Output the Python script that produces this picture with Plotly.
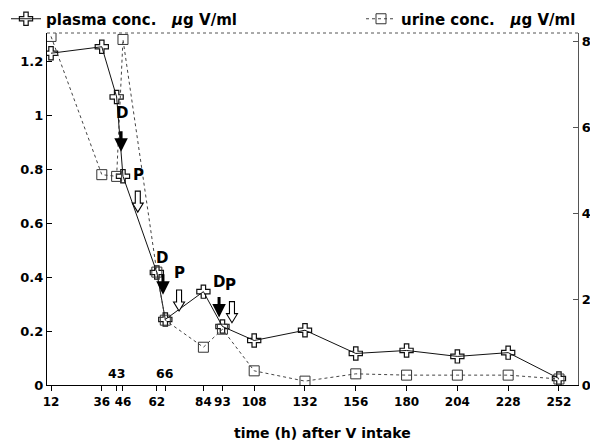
import plotly.graph_objects as go

# ---- data ----
hours = [12, 36, 43, 46, 62, 66, 84, 93, 108, 132, 156, 180, 204, 228, 252]
plasma = [1.23, 1.254, 1.068, 0.774, 0.417, 0.243, 0.346, 0.217, 0.165, 0.203,
          0.117, 0.128, 0.106, 0.120, 0.024]
urine = [8.12, 4.90, 4.86, 8.05, 2.63, 1.51, 0.88, 1.30, 0.33, 0.09,
         0.26, 0.23, 0.23, 0.23, 0.14]

tick_hours = [12, 36, 43, 46, 62, 66, 84, 93, 108, 132, 156, 180, 204, 228, 252]
tick_labels = ["12", "36", "", "46", "62", "", "84", "93", "108", "132",
               "156", "180", "204", "228", "252"]
inner_tick_hours = [43, 66]
inner_tick_labels = ["43", "66"]

# D (filled arrows) and P (hollow arrows) markers
d_arrow_hours = [45.1, 64.9, 91.4]
d_arrow_tip = [0.865, 0.335, 0.25]
d_label_hours = [45.5, 64.4, 91.4]
d_label_y = [1.007, 0.472, 0.383]
p_arrow_hours = [53.0, 72.5, 97.5]
p_arrow_mid = [0.68, 0.313, 0.27]
p_label_hours = [53.1, 72.5, 96.6]
p_label_y = [0.78, 0.417, 0.372]

FONT = "DejaVu Sans"

X_RANGE = [10.1, 261]
Y_RANGE = [0, 1.305]
Y2_RANGE = [0, 8.2]
# page has an 8px body margin: figure starts at (8, 8)
OFF = 8
W, H = 598 - OFF, 441 - OFF
ML, MR, MT, MB = 47 - OFF, 20, 33 - OFF, 56
PW, PH = W - ML - MR, H - MT - MB
px_x = (X_RANGE[1] - X_RANGE[0]) / PW   # hours per pixel
px_y = (Y_RANGE[1] - Y_RANGE[0]) / PH   # left units per pixel

fig = go.Figure()
fig.add_trace(go.Scatter(
    x=hours, y=plasma, mode="lines+markers",
    name="plasma conc.\u00a0\u00a0\u00a0<i>µ</i>g V/ml",
    line=dict(color="#111111", width=1),
    marker=dict(symbol="cross-open", size=11, color="#111111", line=dict(width=1.2)),
    legend="legend",
))
fig.add_trace(go.Scatter(
    x=hours, y=urine, mode="lines+markers",
    name="urine conc.\u00a0\u00a0\u00a0<i>µ</i>g V/ml",
    line=dict(color="#444444", width=1, dash="dot"),
    marker=dict(symbol="square-open", size=10, color="#333333", line=dict(width=1)),
    yaxis="y2", legend="legend2",
))

ann = []
for h, yv in zip(d_arrow_hours, d_arrow_tip):
    ann.append(dict(x=h, y=yv, xref="x", yref="y", text="", showarrow=True,
                    ax=0, ay=-22, arrowhead=2, arrowwidth=3, arrowsize=0.9,
                    arrowcolor="#000000"))
for h, yv in zip(d_label_hours, d_label_y):
    ann.append(dict(x=h, y=yv, xref="x", yref="y", text="D", showarrow=False,
                    yanchor="middle",
                    font=dict(family=FONT, size=15, color="#000", weight="bold")))
for h, yv in zip(p_label_hours, p_label_y):
    ann.append(dict(x=h, y=yv, xref="x", yref="y", text="P", showarrow=False,
                    yanchor="middle",
                    font=dict(family=FONT, size=15, color="#000", weight="bold")))
for h, t in zip(inner_tick_hours, inner_tick_labels):
    ann.append(dict(x=h, y=(385 - 373) / PH, xref="x", yref="paper", text=t,
                    showarrow=False, yanchor="middle",
                    font=dict(family=FONT, size=12.5, color="#000", weight="bold")))
ann.append(dict(x=(322 - 47) / PW, y=-(433 - 385) / PH, xref="paper", yref="paper",
                text="time (h) after V intake", showarrow=False, yanchor="middle",
                font=dict(family=FONT, size=14, color="#000", weight="bold")))

# hollow "P" arrows as outlined paths (sizes in pixels)
shapes = [dict(type="line", xref="paper", yref="paper", x0=0, x1=1, y0=1, y1=1,
               line=dict(color="#555", width=1, dash="dot"))]
total_h, head_h, shaft_w, head_w = 21, 9, 5, 11
for h, ym in zip(p_arrow_hours, p_arrow_mid):
    top = ym + total_h / 2 * px_y
    bot = ym - total_h / 2 * px_y
    neck = bot + head_h * px_y
    sx = shaft_w / 2 * px_x
    hx = head_w / 2 * px_x
    pts = [(h - sx, top), (h + sx, top), (h + sx, neck), (h + hx, neck),
           (h, bot), (h - hx, neck), (h - sx, neck)]
    path = "M " + " L ".join(f"{a:.4f},{b:.5f}" for a, b in pts) + " Z"
    shapes.append(dict(type="path", xref="x", yref="y", path=path,
                       line=dict(color="#000", width=1.1), fillcolor="white"))

leg_y = 1 + (33 - 19) / PH
fig.update_layout(
    width=W, height=H,
    margin=dict(l=ML, r=MR, t=MT, b=MB, autoexpand=False),
    paper_bgcolor="white", plot_bgcolor="white",
    font=dict(family=FONT, size=12.5, color="#000", weight="bold"),
    xaxis=dict(range=X_RANGE, tickvals=tick_hours, ticktext=tick_labels,
               tickangle=0,
               showgrid=False, zeroline=False, showline=True, linecolor="#000",
               linewidth=1.3, ticks="outside", ticklen=5, tickcolor="#000",
               tickfont=dict(size=12)),
    yaxis=dict(range=Y_RANGE, tickvals=[0, 0.2, 0.4, 0.6, 0.8, 1, 1.2],
               ticktext=["0", "0.2", "0.4", "0.6", "0.8", "1", "1.2"],
               showgrid=False, zeroline=False, showline=True, linecolor="#000",
               linewidth=1.3, ticks="inside", ticklen=5, tickcolor="#000",
               tickfont=dict(size=13)),
    yaxis2=dict(range=Y2_RANGE, overlaying="y", side="right", anchor="x",
                tickvals=[0, 2, 4, 6, 8], showgrid=False, zeroline=False,
                showline=True, linecolor="#555", linewidth=1.3, ticks="inside",
                ticklen=5, tickcolor="#555", tickfont=dict(size=13)),
    legend=dict(x=(6 - 47) / PW, y=leg_y, xanchor="left", yanchor="middle",
                itemwidth=30, bgcolor="rgba(0,0,0,0)", font=dict(size=15)),
    legend2=dict(x=(361 - 47) / PW, y=leg_y, xanchor="left", yanchor="middle",
                 itemwidth=30, bgcolor="rgba(0,0,0,0)", font=dict(size=15)),
    showlegend=True,
    annotations=ann,
    shapes=shapes,
)

fig.write_html("out.html")
